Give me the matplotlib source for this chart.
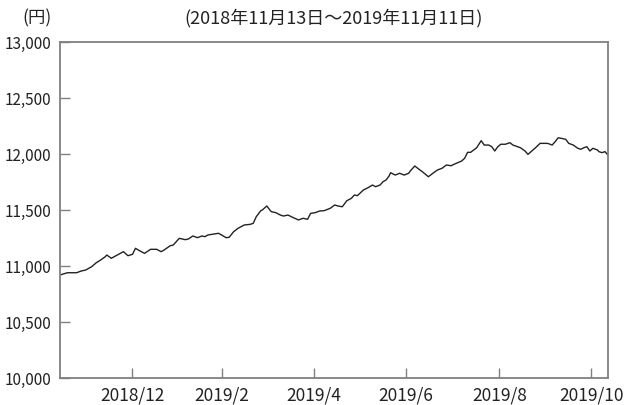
import datetime as dt
import matplotlib
matplotlib.use("Agg")
import matplotlib.pyplot as plt
import matplotlib.dates as mdates
from matplotlib.ticker import FuncFormatter

plt.rcParams['font.family'] = ['Noto Sans CJK JP', 'DejaVu Sans']

# 基準日 2018/11/13 からの経過日数と価格（円）
start = dt.date(2018, 11, 13)
days = [0, 5, 11, 14, 17, 21, 24, 27, 30, 31, 34, 38, 42, 45, 48, 50, 53, 56, 60, 64,
        67, 69, 73, 75, 79, 83, 85, 88, 91, 94, 96, 98, 101, 105, 107, 110, 112, 115, 118, 122,
        126, 128, 130, 133, 134, 137, 139, 140, 143, 146, 148, 151, 154, 158, 161, 164, 166, 169, 172, 175,
        179, 182, 184, 187, 190, 193, 195, 197, 199, 201, 204, 207, 209, 212, 214, 216, 218, 219, 222, 225,
        228, 231, 232, 235, 237, 240, 244, 247, 250, 253, 256, 259, 261, 264, 266, 268, 270, 272, 275, 276,
        279, 281, 284, 286, 288, 290, 292, 295, 298, 300, 303, 305, 308, 310, 312, 315, 318, 321, 323, 326,
        328, 330, 332, 335, 337, 340, 343, 345, 347, 349, 351, 353, 356, 357, 359, 361, 363]
prices = [10920, 10940, 10940, 10955, 10964, 10994, 11029, 11054, 11083, 11098, 11069, 11098, 11128, 11092, 11104, 11158, 11134, 11113, 11149, 11149,
          11128, 11143, 11181, 11187, 11247, 11235, 11241, 11268, 11253, 11268, 11262, 11277, 11283, 11292, 11277, 11253, 11256, 11306, 11337, 11366,
          11372, 11381, 11440, 11494, 11500, 11536, 11500, 11485, 11476, 11455, 11446, 11455, 11435, 11411, 11426, 11417, 11470, 11476, 11491, 11494,
          11515, 11545, 11536, 11529, 11583, 11604, 11634, 11628, 11654, 11679, 11699, 11723, 11708, 11723, 11753, 11768, 11804, 11833, 11812, 11828,
          11812, 11828, 11848, 11893, 11872, 11842, 11797, 11828, 11857, 11872, 11902, 11895, 11908, 11926, 11937, 11961, 12015, 12015, 12045, 12056,
          12119, 12080, 12080, 12065, 12027, 12065, 12087, 12087, 12101, 12080, 12065, 12056, 12027, 11997, 12021, 12056, 12095, 12095, 12095, 12080,
          12110, 12145, 12140, 12131, 12095, 12080, 12051, 12042, 12056, 12065, 12027, 12051, 12036, 12021, 12012, 12021, 11990]

tick_dates = [dt.date(2018, 12, 31), dt.date(2019, 2, 28), dt.date(2019, 4, 30),
              dt.date(2019, 6, 30), dt.date(2019, 8, 31), dt.date(2019, 10, 31)]
tick_labels = ["2018/12", "2019/2", "2019/4", "2019/6", "2019/8", "2019/10"]

dates = [start + dt.timedelta(days=d) for d in days]

fig = plt.figure(figsize=(6.32, 4.05), dpi=100)
ax = fig.add_axes([60 / 632, 1 - 378 / 405, 548 / 632, 336 / 405])

ax.plot(dates, prices, color="#222222", linewidth=1.0)

ax.set_xlim(dates[0], dates[-1])
ax.set_ylim(10000, 13000)
ax.set_yticks(range(10000, 13001, 500))
ax.yaxis.set_major_formatter(FuncFormatter(lambda v, p: f"{int(v):,}"))
ax.set_xticks([mdates.date2num(d) for d in tick_dates])
ax.set_xticklabels(tick_labels)

for s in ax.spines.values():
    s.set_color("#808080")
    s.set_linewidth(1.3)
ax.tick_params(axis="both", direction="in", length=7, width=1.0, color="#808080",
               labelcolor="#222222")
ax.tick_params(axis="y", pad=6, labelsize=11)
ax.tick_params(axis="x", pad=6, labelsize=12.5)

fig.text(37 / 632, 1 - 18 / 405, "(円)", ha="center", va="center", fontsize=12.5, color="#222222")
fig.text(334 / 632, 1 - 18 / 405, "(2018年11月13日～2019年11月11日)", ha="center", va="center",
         fontsize=13, color="#222222")

fig.savefig("out.png", dpi=100)
